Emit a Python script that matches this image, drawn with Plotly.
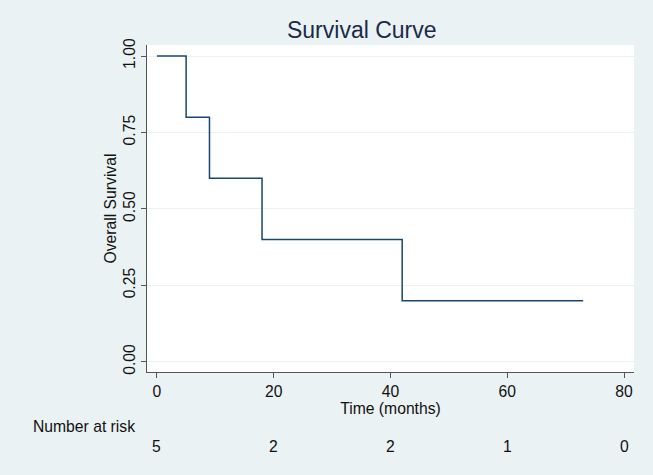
import plotly.graph_objects as go

time_points = [0, 5, 9, 18, 42, 73]
survival = [1.0, 0.8, 0.6, 0.4, 0.2, 0.2]
risk_times = [0, 20, 40, 60, 80]
risk_counts = [5, 2, 2, 1, 0]
x_ticks = [0, 20, 40, 60, 80]
y_ticks = [0, 0.25, 0.5, 0.75, 1.0]
y_ticklabels = ["0.00", "0.25", "0.50", "0.75", "1.00"]

BG = "#eaf2f3"
FONT = "Liberation Sans, Arial, sans-serif"
FS = 15.7

fig = go.Figure()
fig.add_trace(go.Scatter(
    x=time_points, y=survival, mode="lines", line_shape="hv",
    line=dict(color="#1a476f", width=1.5), showlegend=False, hoverinfo="skip"))

for t, n in zip(risk_times, risk_counts):
    fig.add_annotation(x=t, y=-0.229, xref="x", yref="paper", text=str(n),
                       showarrow=False, font=dict(size=FS, color="#111111", family=FONT),
                       xanchor="center", yanchor="middle")
fig.add_annotation(x=-0.129, y=-0.168, xref="paper", yref="paper", text="Number at risk",
                   showarrow=False, font=dict(size=FS, color="#111111", family=FONT),
                   xanchor="center", yanchor="middle")

fig.update_layout(
    width=653, height=475,
    paper_bgcolor=BG, plot_bgcolor="white",
    margin=dict(l=147, r=19, t=45, b=103),
    font=dict(family=FONT, color="#111111", size=FS),
    title=dict(text="Survival Curve", x=0.554, xref="container", xanchor="center",
               y=1 - 30 / 475, yref="container", yanchor="middle",
               font=dict(size=23, color="#1a2a4a", family=FONT)),
    xaxis=dict(range=[-1.7, 81.7], tickvals=x_ticks, showgrid=False, zeroline=False,
               showline=True, linecolor="#555555", linewidth=1,
               ticks="outside", ticklen=5, tickcolor="#555555",
               title=dict(text="Time (months)", standoff=0, font=dict(size=FS)),
               tickfont=dict(size=FS)),
    yaxis=dict(range=[-0.033, 1.036], tickvals=y_ticks, ticktext=y_ticklabels,
               showgrid=True, gridcolor=BG, gridwidth=1, zeroline=False,
               showline=True, linecolor="#555555", linewidth=1,
               ticks="outside", ticklen=5, tickcolor="#555555", tickangle=-90,
               title=dict(text="Overall Survival", standoff=0, font=dict(size=FS)),
               tickfont=dict(size=FS)),
)

fig.write_html("out.html", config={"displayModeBar": False},
               post_script="document.body.style.margin='0px';")
